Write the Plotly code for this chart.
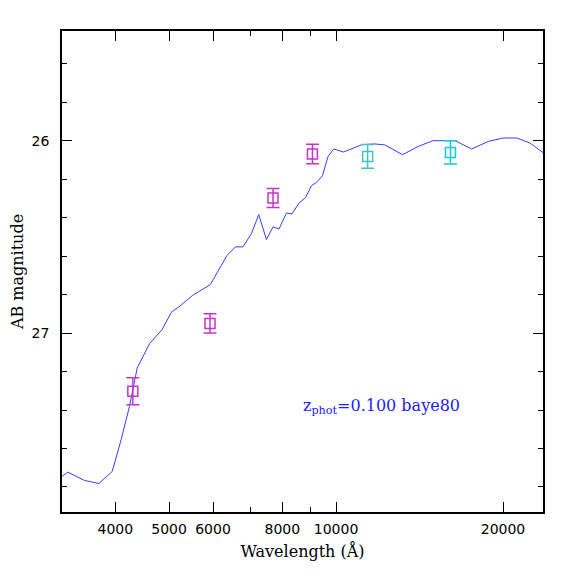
import numpy as np
import plotly.graph_objects as go

# model SED (wavelength in Angstrom, AB mag)
sed_wave = [3205, 3283, 3519, 3736, 3948, 4098, 4242, 4380, 4610, 4857,
            5046, 5223, 5506, 5933, 6357, 6583, 6794, 7037, 7254, 7490,
            7697, 7891, 8138, 8329, 8574, 8816, 9027, 9218, 9451, 9673,
            9904, 10316, 11128, 11746, 12243, 13178, 14060, 14967, 16381, 17553,
            18812, 20013, 21163, 22369, 23612]
sed_mag = [27.745, 27.723, 27.766, 27.782, 27.719, 27.553, 27.380, 27.181, 27.055, 26.982,
           26.892, 26.861, 26.805, 26.748, 26.597, 26.552, 26.552, 26.483, 26.384, 26.514,
           26.448, 26.459, 26.376, 26.381, 26.324, 26.295, 26.234, 26.217, 26.182, 26.082,
           26.043, 26.059, 26.021, 26.017, 26.022, 26.073, 26.030, 26.000, 26.000, 26.043,
           26.004, 25.986, 25.986, 26.012, 26.062]

# observed photometry
phot_wave = [4301, 5925, 7697, 9066, 11400, 16080]
phot_mag = [27.302, 26.950, 26.298, 26.069, 26.082, 26.061]
phot_err = [0.070, 0.050, 0.050, 0.051, 0.062, 0.060]
phot_color = ["#c832c8", "#c832c8", "#c832c8", "#c832c8", "#40c0c0", "#10cccc"]

x_ticks = [4000, 5000, 6000, 8000, 10000, 20000]
x_minor = [7000, 9000]

fig = go.Figure()

fig.add_trace(go.Scatter(x=sed_wave, y=sed_mag, mode="lines",
                         line=dict(color="#3c3cff", width=1), hoverinfo="skip"))

for w, m, e, c in zip(phot_wave, phot_mag, phot_err, phot_color):
    fig.add_trace(go.Scatter(
        x=[w], y=[m], mode="markers",
        marker=dict(symbol="square-open", size=10, color=c, line=dict(width=1.5, color=c)),
        error_y=dict(type="constant", value=e, color=c, thickness=1.5, width=6.5),
    ))

axis_common = dict(showline=True, linecolor="black", linewidth=1.5, mirror="allticks",
                   ticks="inside", tickcolor="black", tickwidth=1, ticklen=10,
                   showgrid=False, zeroline=False, automargin=False,
                   tickfont=dict(family="DejaVu Sans", size=14, color="black"))

fig.update_xaxes(type="log", range=[np.log10(3205), np.log10(23612)],
                 tickmode="array", tickvals=x_ticks, ticktext=[str(t) for t in x_ticks],
                 minor=dict(tickmode="array", tickvals=x_minor, ticklen=5, ticks="inside",
                            tickcolor="black", tickwidth=1, showgrid=False),
                 ticklabelstandoff=3,
                 title=dict(text="Wavelength (Å)", standoff=10,
                            font=dict(family="DejaVu Serif", size=16, color="black")),
                 **axis_common)

fig.update_yaxes(range=[27.93, 25.43], tickmode="linear", tick0=26, dtick=1,
                 minor=dict(tickmode="linear", tick0=26, dtick=0.2, ticklen=5, ticks="inside",
                            tickcolor="black", tickwidth=1, showgrid=False),
                 ticklabelstandoff=8,
                 title=dict(text="AB magnitude", standoff=8,
                            font=dict(family="DejaVu Serif", size=16, color="black")),
                 **axis_common)

fig.add_annotation(xref="paper", yref="paper", x=0.664, y=0.22,
                   xanchor="center", yanchor="middle", showarrow=False,
                   text="z<sub>phot</sub>=0.100 baye80",
                   font=dict(family="DejaVu Serif", size=16, color="#2020ff"))

fig.update_layout(width=566, height=566, showlegend=False,
                  paper_bgcolor="white", plot_bgcolor="white",
                  margin=dict(l=54, r=31, t=23, b=62))

fig.write_html("out.html")
